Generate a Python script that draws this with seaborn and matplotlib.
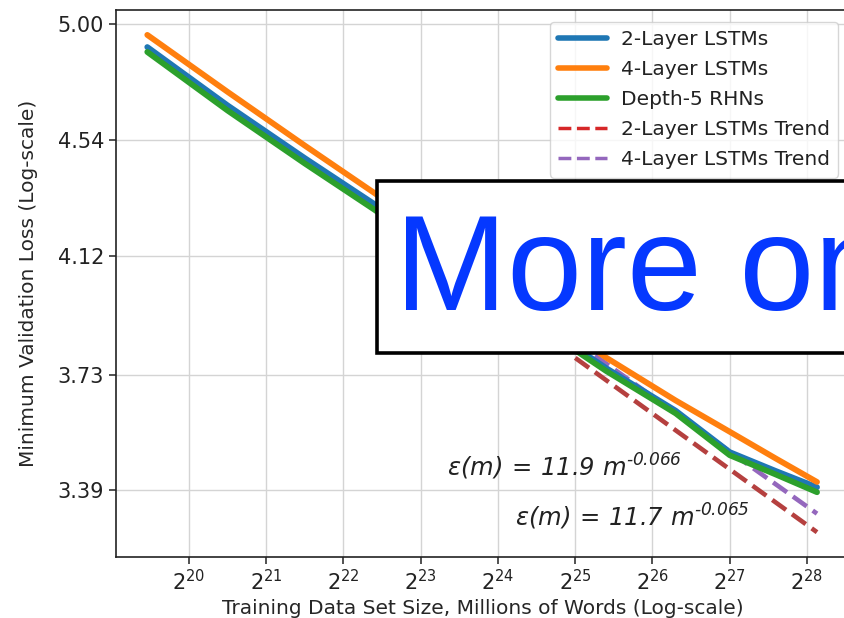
import numpy as np
import pandas as pd
import matplotlib
matplotlib.use("Agg")
import matplotlib.pyplot as plt
import seaborn as sns
from matplotlib.lines import Line2D
from matplotlib.patches import Rectangle
from matplotlib.ticker import FixedLocator, FixedFormatter, NullLocator

# ---------------- data ----------------
size_log2 = [19.46, 20.5, 21.5, 22.4, 23.4, 24.4, 25.4, 26.3, 27.0, 27.6, 28.13]
lstm2_loss = [4.905, 4.672, 4.471, 4.303, 4.103, 3.920, 3.753, 3.622, 3.499, 3.444, 3.398]
lstm4_loss = [4.955, 4.725, 4.518, 4.343, 4.148, 3.963, 3.786, 3.653, 3.559, 3.480, 3.413]
rhn5_loss = [4.885, 4.652, 4.451, 4.283, 4.092, 3.910, 3.744, 3.614, 3.490, 3.434, 3.384]

trend_log2 = [25.0, 28.13]
lstm2_trend = [3.785, 3.273]
lstm4_trend = [3.837, 3.324]

series_labels = ["2-Layer LSTMs", "4-Layer LSTMs", "Depth-5 RHNs",
                 "2-Layer LSTMs Trend", "4-Layer LSTMs Trend"]
y_tick_values = [3.39, 3.73, 4.12, 4.54, 5.00]
y_tick_labels = ["3.39", "3.73", "4.12", "4.54", "5.00"]
eq_texts = [r"$\mathdefault{ε(m)\,=\,11.9\ m^{‐0.066}}$",
            r"$\mathdefault{ε(m)\,=\,11.7\ m^{‐0.065}}$"]
overlay_text = "More on"

# ---------------- frames ----------------
sizes = [2.0 ** e for e in size_log2]
curves = pd.DataFrame({
    "size": sizes * 3,
    "loss": lstm2_loss + lstm4_loss + rhn5_loss,
    "model": [series_labels[0]] * len(sizes) + [series_labels[1]] * len(sizes)
             + [series_labels[2]] * len(sizes),
})
tsizes = [2.0 ** e for e in trend_log2]
trends = pd.DataFrame({
    "size": tsizes * 2,
    "loss": lstm2_trend + lstm4_trend,
    "model": [series_labels[3]] * 2 + [series_labels[4]] * 2,
})

# ---------------- style ----------------
sns.set_theme(style="white")
plt.rcParams["font.family"] = ["DejaVu Sans"]
plt.rcParams["axes.edgecolor"] = "#222222"
plt.rcParams["text.color"] = "#222222"

W, H = 844, 618
fig = plt.figure(figsize=(W / 100, H / 100), dpi=100)
ax = fig.add_axes([116 / W, (H - 557) / H, (850 - 116) / W, (557 - 10) / H])

palette = {series_labels[0]: "#1f77b4", series_labels[1]: "#ff7f0e",
           series_labels[2]: "#2ca02c"}
trend_palette = {series_labels[3]: "#b5403f", series_labels[4]: "#9467bd"}

sns.lineplot(data=curves, x="size", y="loss", hue="model", palette=palette,
             linewidth=4.2, legend=False, ax=ax, estimator=None, sort=False,
             zorder=3)
for name in [series_labels[3], series_labels[4]]:
    sub = trends[trends["model"] == name]
    sns.lineplot(data=sub, x="size", y="loss", color=trend_palette[name],
                 linewidth=3.3, linestyle="--", legend=False, ax=ax,
                 estimator=None, sort=False, zorder=2)

ax.set_xscale("log", base=2)
ax.set_yscale("log")
ax.set_xlim(2 ** 19.055, 2 ** 28.557)
ax.set_ylim(3.206, 5.059)

ax.yaxis.set_major_locator(FixedLocator(y_tick_values))
ax.yaxis.set_major_formatter(FixedFormatter(y_tick_labels))
ax.yaxis.set_minor_locator(NullLocator())
ax.xaxis.set_minor_locator(NullLocator())

ax.grid(True, which="major", color="#d4d4d4", linewidth=1.0)
ax.set_axisbelow(True)
for sp in ax.spines.values():
    sp.set_color("#222222")
    sp.set_linewidth(1.2)
ax.tick_params(axis="both", which="major", labelsize=15, length=5, width=1.1,
               color="#222222", labelcolor="#222222", pad=3.5,
               bottom=True, left=True)

ax.set_xlabel("Training Data Set Size, Millions of Words (Log-scale)",
              fontsize=14.5, labelpad=3.5)
ax.set_ylabel("Minimum Validation Loss (Log-scale)", fontsize=14.5,
              labelpad=14)

handles = [
    Line2D([], [], color="#1f77b4", lw=4),
    Line2D([], [], color="#ff7f0e", lw=4),
    Line2D([], [], color="#2ca02c", lw=4),
    Line2D([], [], color="#d62728", lw=2.5, ls="--"),
    Line2D([], [], color="#9467bd", lw=2.5, ls="--"),
]
leg = ax.legend(handles, series_labels, loc="upper right", fontsize=14.5,
                handlelength=2.4, handletextpad=0.7, labelspacing=0.55,
                frameon=True, fancybox=True, framealpha=0.8,
                edgecolor="#cccccc", borderaxespad=0.6)
leg.set_zorder(5)

ax.text(2 ** 23.34, 3.455, eq_texts[0], fontsize=17.5, style="italic",
        ha="left", va="center", color="#222222", zorder=6)
ax.text(2 ** 24.22, 3.316, eq_texts[1], fontsize=17.5, style="italic",
        ha="left", va="center", color="#222222", zorder=6)

# overlay box covering the middle of the chart
rect = Rectangle((377 / W, (H - 353) / H), 0.7, (353 - 181) / H,
                 transform=fig.transFigure, facecolor="white",
                 edgecolor="black", linewidth=2.6, zorder=20)
fig.add_artist(rect)
fig.text(395 / W, (H - 310) / H, overlay_text, fontsize=97,
         family="Liberation Sans", color="#0538ff", ha="left",
         va="baseline", zorder=21)

fig.savefig("out.png", dpi=100)
